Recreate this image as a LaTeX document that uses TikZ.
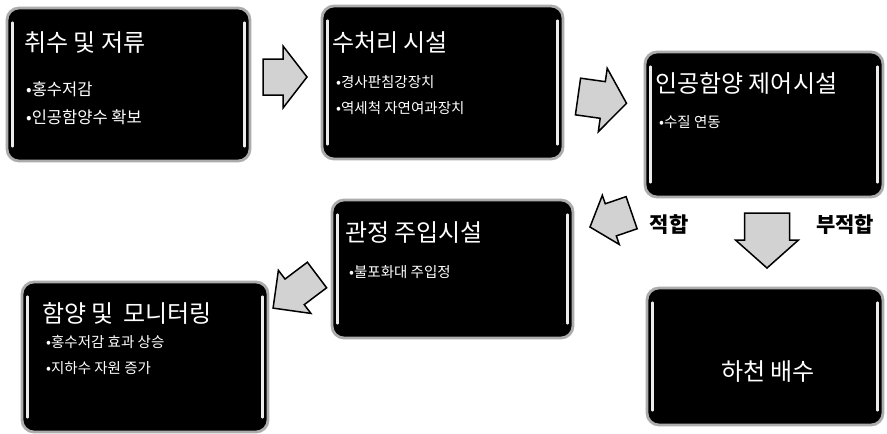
\documentclass[tikz,border=0pt]{standalone}
\usepackage{fontspec}
\newfontfamily\kr{Noto Sans CJK KR}
\usetikzlibrary{calc}
\newcommand\barr[4]{\draw[barrow] (0,-#3)--(#1,-#3)--(#1,-#4)--(#2,0)--(#1,#4)--(#1,#3)--(0,#3)--cycle;}
\begin{document}
\begin{tikzpicture}[x=1pt,y=-1pt,
  box/.style={draw=gray!65, line width=2.8pt, fill=black, rounded corners=12pt, inner sep=0pt},
  hl/.style={draw=gray!15, line width=2.6pt, line cap=round},
  ttl/.style={text=white, font=\kr\fontsize{24}{28}\selectfont, anchor=west, inner sep=0pt},
  itm/.style={text=white, font=\kr\fontsize{14.5}{17}\selectfont, anchor=west, inner sep=0pt},
  itmbig/.style={text=white, font=\kr\fontsize{16.5}{20}\selectfont, anchor=west, inner sep=0pt},
  barrow/.style={fill=gray!35, draw=black, line width=1.5pt, line join=miter},
  lbl/.style={font=\kr\bfseries\fontsize{21}{24}\selectfont, anchor=center, inner sep=0pt}]
\useasboundingbox[fill=white] (0,0) rectangle (887,434);

% boxes
\node[box, minimum width=243pt, minimum height=153pt] (b1) at (128.5,84.5) {};
\node[box, minimum width=241pt, minimum height=153pt] (b2) at (442.5,82.5) {};
\node[box, minimum width=238pt, minimum height=145pt] (b3) at (764,124.5) {};
\node[box, minimum width=241pt, minimum height=138pt] (b4) at (452.5,269) {};
\node[box, minimum width=246pt, minimum height=150pt] (b5) at (145,357) {};
\node[box, minimum width=236pt, minimum height=137pt] (b6) at (765,356.5) {};
\foreach \bx in {b1,b2,b3,b4,b5,b6}{
  \draw[hl] ($(\bx.north west)+(7,16)$) -- ($(\bx.south west)+(7,-16)$);
  \draw[hl] ($(\bx.north east)+(-7,16)$) -- ($(\bx.south east)+(-7,-16)$);
}

% texts
\node[ttl] (t1) at (24,43) {취수 및 저류};
\node[itmbig] (t1a) at (26,89) {•홍수저감};
\node[itmbig] (t1b) at (26,117) {•인공함양수 확보};

\node[ttl] (t2) at (332,43) {수처리 시설};
\node[itm] (t2a) at (336,82) {•경사판침강장치};
\node[itm] (t2b) at (336,108) {•역세척 자연여과장치};

\node[ttl] (t3) at (655,83) {인공함양 제어시설};
\node[itm] (t3a) at (659,122) {•수질 연동};

\node[ttl] (t4) at (345,233) {관정 주입시설};
\node[itm] (t4a) at (349,272) {•불포화대 주입정};

\node[ttl] (t5) at (42,313) {함양 및\, 모니터링};
\node[itm] (t5a) at (46,342) {•홍수저감 효과 상승};
\node[itm] (t5b) at (46,368) {•지하수 자원 증가};

\node[ttl, anchor=center] (t6) at (768,372) {하천 배수};

% block arrows
\begin{scope}[shift={(263,77)}]\barr{20}{44}{18}{31}\end{scope}
\begin{scope}[shift={(578,96.5)}, rotate=-8]\barr{25}{49}{18.5}{32}\end{scope}
\begin{scope}[shift={(631.6,212.7)}, rotate=199]\barr{22}{44}{17}{26}\end{scope}
\begin{scope}[shift={(767,213)}, rotate=-90]\barr{27}{55}{22.5}{31.5}\end{scope}
\begin{scope}[shift={(317,275)}, rotate=217]\barr{28}{55}{16}{27}\end{scope}

\node[lbl] (l1) at (669,225) {적합};
\node[lbl] (l2) at (845,225) {부적합};
\end{tikzpicture}
\end{document}
